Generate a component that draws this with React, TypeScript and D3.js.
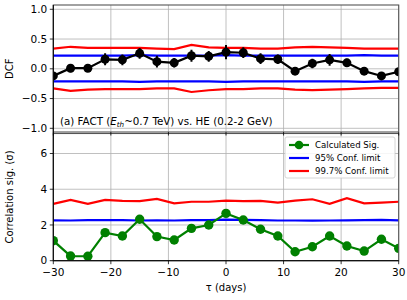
import React from "react";
import * as d3 from "d3";

const lags = [-30, -27, -24, -21, -18, -15, -12, -9, -6, -3, 0, 3, 6, 9, 12, 15, 18, 21, 24, 27, 30];
const dcf = [-0.12, 0.01, 0.01, 0.16, 0.15, 0.26, 0.12, 0.1, 0.22, 0.21, 0.28, 0.27, 0.17, 0.16, -0.04, 0.09, 0.15, 0.1, -0.04, -0.12, -0.05];
const dcfErr = [0.05, 0.07, 0.06, 0.1, 0.09, 0.09, 0.1, 0.08, 0.1, 0.09, 0.12, 0.09, 0.09, 0.08, 0.05, 0.08, 0.1, 0.07, 0.05, 0.05, 0.05];
const dcfBlueUp = [0.22, 0.22, 0.22, 0.22, 0.22, 0.23, 0.22, 0.22, 0.22, 0.22, 0.23, 0.22, 0.22, 0.22, 0.22, 0.22, 0.22, 0.22, 0.23, 0.22, 0.22];
const dcfBlueLo = [-0.21, -0.21, -0.21, -0.21, -0.21, -0.22, -0.21, -0.21, -0.21, -0.21, -0.22, -0.21, -0.21, -0.21, -0.21, -0.21, -0.21, -0.21, -0.22, -0.21, -0.21];
const dcfRedUp = [0.34, 0.37, 0.35, 0.35, 0.35, 0.35, 0.34, 0.33, 0.4, 0.36, 0.35, 0.35, 0.34, 0.34, 0.36, 0.37, 0.36, 0.35, 0.34, 0.34, 0.34];
const dcfRedLo = [-0.33, -0.37, -0.35, -0.34, -0.34, -0.34, -0.33, -0.33, -0.39, -0.36, -0.34, -0.34, -0.33, -0.33, -0.35, -0.36, -0.35, -0.34, -0.33, -0.32, -0.32];
const sig = [1.12, 0.26, 0.25, 1.57, 1.38, 2.32, 1.35, 1.16, 1.81, 2.0, 2.65, 2.28, 1.76, 1.38, 0.5, 0.78, 1.38, 0.82, 0.54, 1.2, 0.69];
const sig95 = [2.26, 2.25, 2.27, 2.27, 2.27, 2.25, 2.26, 2.25, 2.27, 2.27, 2.3, 2.28, 2.27, 2.25, 2.25, 2.24, 2.25, 2.26, 2.27, 2.28, 2.26];
const sig997 = [3.18, 3.4, 3.18, 3.4, 3.35, 3.34, 3.46, 3.21, 3.3, 3.3, 3.36, 3.33, 3.35, 3.25, 3.36, 3.44, 3.18, 3.5, 3.21, 3.25, 3.3];
const xTicks = [-30, -20, -10, 0, 10, 20, 30];
const dcfTicks = [-1.0, -0.5, 0.0, 0.5, 1.0];
const sigTicks = [0, 2, 4, 6];
const legendLabels = ["Calculated Sig.", "95% Conf. limit", "99.7% Conf. limit"];

const FONT = "DejaVu Sans, sans-serif";

export default function App() {
  const W = 407, H = 300;
  const left = 53.3, right = 398.7;
  const x = d3.scaleLinear().domain([-30, 30]).range([left, right]);
  const yTop = d3.scaleLinear().domain([-1.062, 1.072]).range([132, 5]);
  const yBot = d3.scaleLinear().domain([0, 7.12]).range([260.7, 133.5]);

  const lineTop = (vals: number[]) =>
    d3.line<number>().x((_, i) => x(lags[i])).y((d) => yTop(d))(vals) || "";
  const lineBot = (vals: number[]) =>
    d3.line<number>().x((_, i) => x(lags[i])).y((d) => yBot(d))(vals) || "";

  const grid = "#b0b0b0";
  const spine = "#555";

  return (
    <svg width={W} height={H} style={{ position: "absolute", left: 0, top: 0, fontFamily: FONT }}>
      <defs>
        <clipPath id="cTop"><rect x={left} y={5} width={right - left} height={127} /></clipPath>
        <clipPath id="cBot"><rect x={left} y={133.5} width={right - left} height={127.2} /></clipPath>
      </defs>
      <rect width={W} height={H} fill="#fff" />
      {xTicks.map((t) => (
        <g key={"gx" + t}>
          <line x1={x(t)} x2={x(t)} y1={5} y2={132} stroke={grid} strokeWidth={0.8} />
          <line x1={x(t)} x2={x(t)} y1={133.5} y2={260.7} stroke={grid} strokeWidth={0.8} />
        </g>
      ))}
      {dcfTicks.map((t) => (
        <line key={"gy" + t} x1={left} x2={right} y1={yTop(t)} y2={yTop(t)} stroke={grid} strokeWidth={0.8} />
      ))}
      {sigTicks.map((t) => (
        <line key={"gs" + t} x1={left} x2={right} y1={yBot(t)} y2={yBot(t)} stroke={grid} strokeWidth={0.8} />
      ))}

      <g clipPath="url(#cTop)">
        <path d={lineTop(dcfRedUp)} fill="none" stroke="#ff0000" strokeWidth={2.2} />
        <path d={lineTop(dcfRedLo)} fill="none" stroke="#ff0000" strokeWidth={2.2} />
        <path d={lineTop(dcfBlueUp)} fill="none" stroke="#0000ff" strokeWidth={2.2} />
        <path d={lineTop(dcfBlueLo)} fill="none" stroke="#0000ff" strokeWidth={2.2} />
        <path d={lineTop(dcf)} fill="none" stroke="#000" strokeWidth={2.2} />
        {dcf.map((d, i) => (
          <g key={"e" + i}>
            <line x1={x(lags[i])} x2={x(lags[i])} y1={yTop(d - dcfErr[i])} y2={yTop(d + dcfErr[i])} stroke="#000" strokeWidth={2} />
            <circle cx={x(lags[i])} cy={yTop(d)} r={4.5} fill="#000" />
          </g>
        ))}
      </g>
      <text x={60} y={125} fontSize={10.3} fill="#000">
        (a) FACT (<tspan fontStyle="italic">E</tspan>
        <tspan fontStyle="italic" fontSize={7.2} dy={2}>th</tspan>
        <tspan dy={-2}>~0.7 TeV) vs. HE (0.2-2 GeV)</tspan>
      </text>

      <g clipPath="url(#cBot)">
        <path d={lineBot(sig997)} fill="none" stroke="#ff0000" strokeWidth={2.2} />
        <path d={lineBot(sig95)} fill="none" stroke="#0000ff" strokeWidth={2.2} />
        <path d={lineBot(sig)} fill="none" stroke="#008000" strokeWidth={2.2} />
        {sig.map((d, i) => (
          <circle key={"s" + i} cx={x(lags[i])} cy={yBot(d)} r={4.7} fill="#008000" />
        ))}
      </g>

      <rect x={left} y={5} width={right - left} height={127} fill="none" stroke={spine} strokeWidth={1.1} />
      <rect x={left} y={133.5} width={right - left} height={127.2} fill="none" stroke={spine} strokeWidth={1.1} />
      <line x1={left} x2={left} y1={5} y2={260.7} stroke="#000" strokeWidth={1} />
      <line x1={left} x2={right} y1={260.7} y2={260.7} stroke="#000" strokeWidth={1} />

      {dcfTicks.map((t) => (
        <g key={"ty" + t}>
          <line x1={left - 3.5} x2={left} y1={yTop(t)} y2={yTop(t)} stroke="#000" strokeWidth={0.8} />
          <text x={left - 6} y={yTop(t)} dy="0.35em" textAnchor="end" fontSize={10.5}>
            {t < 0 ? "\u2212" + Math.abs(t).toFixed(1) : t.toFixed(1)}
          </text>
        </g>
      ))}
      {xTicks.map((t) => (
        <line key={"tx" + t} x1={x(t)} x2={x(t)} y1={132} y2={135.5} stroke="#000" strokeWidth={0.8} />
      ))}
      {sigTicks.map((t) => (
        <g key={"sy" + t}>
          <line x1={left - 3.5} x2={left} y1={yBot(t)} y2={yBot(t)} stroke="#000" strokeWidth={0.8} />
          <text x={left - 6} y={yBot(t)} dy="0.35em" textAnchor="end" fontSize={10.5}>{t}</text>
        </g>
      ))}
      {xTicks.map((t) => (
        <g key={"bx" + t}>
          <line x1={x(t)} x2={x(t)} y1={260.7} y2={264.2} stroke="#000" strokeWidth={0.8} />
          <text x={x(t)} y={276} textAnchor="middle" fontSize={10.5}>
            {t < 0 ? "\u2212" + Math.abs(t) : String(t)}
          </text>
        </g>
      ))}

      <text transform={`translate(13,${yTop(0)}) rotate(-90)`} textAnchor="middle" fontSize={10}>DCF</text>
      <text transform={`translate(13,197) rotate(-90)`} textAnchor="middle" fontSize={10}>Correlation sig. (σ)</text>
      <text x={(left + right) / 2} y={291} textAnchor="middle" fontSize={10}>τ (days)</text>

      <g>
        <rect x={285} y={137} width={110} height={41} rx={2} fill="#fff" fillOpacity={0.85} stroke="#ccc" strokeWidth={0.8} />
        {legendLabels.map((lab, i) => {
          const yy = 145 + i * 13;
          const col = ["#008000", "#0000ff", "#ff0000"][i];
          return (
            <g key={lab}>
              <line x1={289} x2={309} y1={yy} y2={yy} stroke={col} strokeWidth={2.2} />
              {i === 0 && <circle cx={299} cy={yy} r={4.3} fill={col} />}
              <text x={315} y={yy} dy="0.35em" fontSize={8.6}>{lab}</text>
            </g>
          );
        })}
      </g>
    </svg>
  );
}
